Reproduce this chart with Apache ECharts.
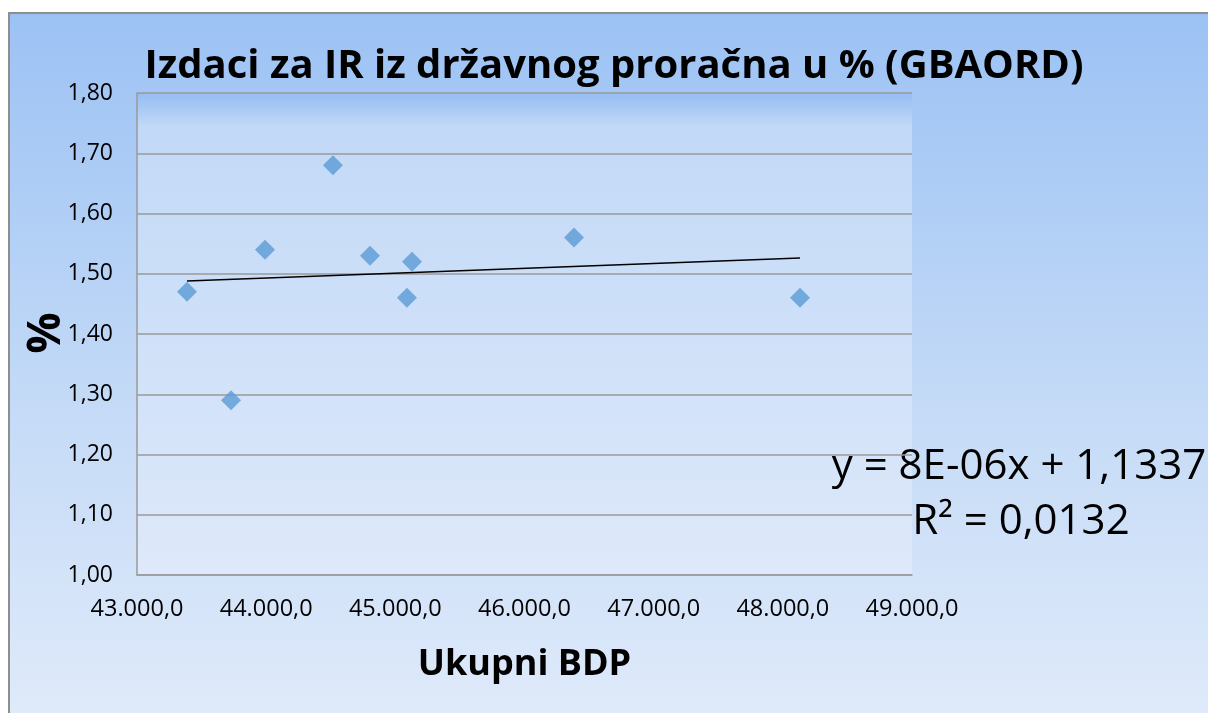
<!DOCTYPE html>
<html>
<head>
<meta charset="utf-8">
<script src="https://cdn.jsdelivr.net/npm/echarts@6/dist/echarts.min.js"></script>
<style>
  html, body { margin: 0; padding: 0; background: #ffffff; }
  #frame { position: absolute; left: 8px; top: 12px; width: 1200px; height: 701px;
           border-top: 2px solid #8e8e8e; border-left: 2px solid #8e8e8e;
           background: linear-gradient(to bottom, #9cc2f4 0%, #c7dcf7 60%, #dfeafa 100%); }
  #main { position: absolute; left: 0; top: 0; width: 1208px; height: 713px; }
</style>
</head>
<body>
<div id="frame"></div>
<div id="main"></div>
<script>
// ---- data ----
const titleText = 'Izdaci za IR iz državnog proračna u % (GBAORD)';
const xAxisName = 'Ukupni BDP';
const yAxisName = '%';
const gdp = [43387, 43728, 43991, 44517, 44804, 45090, 45129, 46383, 48133];
const pct = [1.47, 1.29, 1.54, 1.68, 1.53, 1.46, 1.52, 1.56, 1.46];
const equationLines = ['y = 8E-06x + 1,1337', 'R² = 0,0132'];
const xRange = [43000, 49000];
const yRange = [1.0, 1.8];

// least-squares trendline drawn over the data span
const n = gdp.length;
const mx = gdp.reduce((a, b) => a + b, 0) / n;
const my = pct.reduce((a, b) => a + b, 0) / n;
let sxy = 0, sxx = 0;
for (let i = 0; i < n; i++) { sxy += (gdp[i] - mx) * (pct[i] - my); sxx += (gdp[i] - mx) ** 2; }
const slope = sxy / sxx, icpt = my - slope * mx;
const xMin = Math.min(...gdp), xMax = Math.max(...gdp);
const trend = [[xMin, icpt + slope * xMin], [xMax, icpt + slope * xMax]];

function fmtX(v) {
  const s = Math.round(v).toString().replace(/\B(?=(\d{3})+(?!\d))/g, '.');
  return s + ',0';
}
function fmtY(v) { return v.toFixed(2).replace('.', ','); }

const FONT = '"Open Sans", sans-serif';
const chart = echarts.init(document.getElementById('main'), null, { renderer: 'canvas' });
chart.setOption({
  backgroundColor: 'transparent',
  animation: false,
  grid: {
    left: 137, right: 296, top: 93, bottom: 138,
    show: true, borderWidth: 0,
    backgroundColor: {
      type: 'linear', x: 0, y: 0, x2: 0, y2: 1,
      colorStops: [
        { offset: 0, color: '#94bdf3' },
        { offset: 0.07, color: '#c2d9f7' },
        { offset: 1, color: '#dee9fa' }
      ]
    }
  },
  xAxis: {
    type: 'value', min: xRange[0], max: xRange[1], interval: 1000,
    name: xAxisName, nameLocation: 'middle', nameGap: 72,
    nameTextStyle: { fontFamily: FONT, fontWeight: 'bold', fontSize: 36, color: '#000' },
    axisLine: { show: true, lineStyle: { color: '#9a9a9a', width: 1.5 } },
    axisTick: { show: false },
    splitLine: { show: false },
    axisLabel: { formatter: fmtX, fontFamily: FONT, fontSize: 23.5, color: '#000', margin: 22 }
  },
  yAxis: {
    type: 'value', min: yRange[0], max: yRange[1], interval: 0.1,
    axisLine: { show: true, lineStyle: { color: '#9a9a9a', width: 1.5 } },
    axisTick: { show: false },
    splitLine: { show: true, lineStyle: { color: '#9a9a9a', width: 1.5 } },
    axisLabel: { formatter: fmtY, fontFamily: FONT, fontSize: 23, color: '#000', margin: 24 }
  },
  series: [
    {
      type: 'line', data: trend, showSymbol: false, symbol: 'none', silent: true,
      lineStyle: { color: '#000', width: 1.5 }, z: 2
    },
    {
      type: 'scatter', data: gdp.map((x, i) => [x, pct[i]]),
      symbol: 'diamond', symbolSize: [20, 20],
      itemStyle: { color: '#5b9bd5' }, z: 3
    }
  ],
  graphic: [
    { type: 'text', x: 614, y: 67, style: { text: titleText, fontFamily: FONT, fontWeight: 'bold', fontSize: 40, fill: '#000', textAlign: 'center', textVerticalAlign: 'middle' } },
    { type: 'text', x: 47, y: 333, rotation: Math.PI / 2, style: { text: yAxisName, fontFamily: FONT, fontWeight: 'bold', fontSize: 46, fill: '#000', textAlign: 'center', textVerticalAlign: 'middle' } },
    { type: 'text', x: 1019, y: 467, style: { text: equationLines[0], fontFamily: FONT, fontSize: 42, fill: '#000', textAlign: 'center', textVerticalAlign: 'middle' } },
    { type: 'text', x: 1021, y: 522, style: { text: equationLines[1], fontFamily: FONT, fontSize: 42, fill: '#000', textAlign: 'center', textVerticalAlign: 'middle' } }
  ]
});
</script>
</body>
</html>
